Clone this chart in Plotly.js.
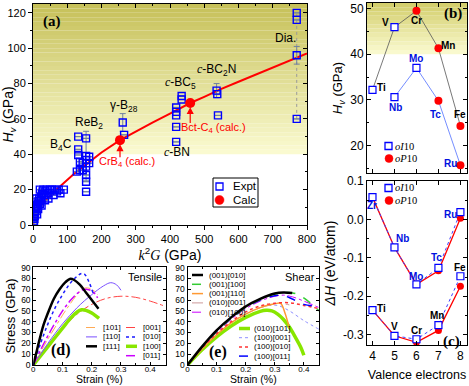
<!DOCTYPE html>
<html><head><meta charset="utf-8">
<script src="https://cdn.plot.ly/plotly-3.0.1.min.js"></script>
<style>html,body{margin:0;padding:0;background:#fff}#chart{width:469px;height:386px}</style>
</head><body><div id="chart"></div>
<script>
// ---------------- Panel (a): Hv vs k^2 G ----------------
const exptK2G = [2,3,4,5,6,7,8,10,12,14,16,18,20,22,24,26,28,30,33,36,40,45,50,55,60,65,70,75,80,90,12,15,25,20,35,45,10,5,
  132,132,132,137,137,128,145,145,155,155,155,155,155,155,155,164,164,
  262,266, 418,418,418,418,418,434,434, 536,538,540];
const exptHv  = [0.5,2,3.5,5,6.5,8,9.5,10,11,12,13.5,15,12,14,16,17.5,19,20,17,19,20,18,20,20,17,20,19,20,18,20,6,9,11,20,14,15,15,10,
  50,42.8,39.6,35.8,31,30.2,35,31,49,39,36.8,33,28.3,24.5,18.8,38.6,35,
  58,51, 66.5,64,62,55.5,47,73,71, 76,74,62];
const exptErr = [null,null,null,null,null,null,null,null,null,null,null,null,null,null,null,null,null,null,null,null,null,null,null,null,null,null,null,null,null,null,null,null,null,null,null,null,null,null,
  null,null,null,null,null,null,null,null,null,14,null,null,null,null,null,null,null,
  5,null, null,null,null,null,null,null,null, 4,null,null];
const diamondK2G = [770,770,770,770];
const diamondHv  = [60,96,116,120];
const diamondErr = [null,5,null,null];
const fitK2G = [0,10,20,40,60,80,120,160,200,254,300,350,400,459,500,550,600,650,700,750,800];
const fitHv  = [0,6,9.5,14.5,18.5,22,29,35,41,48,53,58,63,69,72.5,77,81,85,89,93,97];
const calcK2G = [254,459];
const calcHv  = [48,69];
const seriesA = ['Expt','Calc'];

// ---------------- Panels (b),(c): TM tetraborides ----------------
const valence = [4,5,6,7,8];
const elements3d = ['Ti','V','Cr','Mn','Fe'];
const elements4d = ['Zr','Nb','Mo','Tc','Ru'];
const hv3d = [32.2,45.9,49.5,41.3,24.3];
const phase3d = ['oI10','oI10','oP10','oP10','oP10'];
const hv4d = [null,30.6,37.0,29.8,15.7];
const phase4d = [null,'oI10','oI10','oP10','oP10'];
const dH3d_oI10 = [-0.236,-0.303,-0.312,-0.275,-0.148];
const dH3d_oP10 = [-0.236,-0.303,-0.320,-0.289,-0.174];
const dH4d_oI10 = [0.058,-0.073,-0.169,-0.126,0.019];
const dH4d_oP10 = [0.058,-0.073,-0.169,-0.134,0.003];
const phaseNames = ['<i>oI</i>10','<i>oP</i>10'];

// ---------------- Panel (d): tensile stress-strain ----------------
const t101_x = [0,0.025,0.05,0.075,0.1,0.125,0.15,0.17,0.19,0.21,0.22];
const t101_y = [0,12,24,35,46,56,65,70.5,71,68,65];
const t110_x = [0,0.025,0.05,0.1,0.15,0.2,0.24,0.265,0.285,0.3];
const t110_y = [0,10,20,38,53,65,73,76,74,69];
const t111_x = [0,0.01,0.02,0.035,0.05,0.07,0.09,0.11,0.125,0.14,0.16,0.18,0.2,0.223];
const t111_y = [0,11,22,37,48,61,70,76.5,79.5,78.5,74,67,60,52];
const t001_x = [0,0.05,0.1,0.15,0.2,0.25,0.3,0.35,0.4,0.453];
const t001_y = [0,17.5,34,47,56,61.5,63.5,62.5,59,54];
const t010_x = [0,0.025,0.05,0.075,0.1,0.125,0.15,0.165,0.175,0.19,0.205];
const t010_y = [0,20,38,53,65,75,82,84.5,84,77,66];
const t100_x = [0,0.05,0.1,0.13,0.15,0.165,0.18,0.2,0.225];
const t100_y = [0,17,34,44,49,51,50.5,48,43];
const t011_x = [0,0.025,0.05,0.075,0.1,0.125,0.15,0.17,0.19,0.21,0.22];
const t011_y = [0,14,27,39,50,59,66,69.5,69.5,66,62];

// ---------------- Panel (e): shear stress-strain ----------------
const s001_010_x = [0,0.05,0.1,0.15,0.2,0.25,0.3,0.33,0.36];
const s001_010_y = [0,17,32,44,54,61,66,67,66.5];
const s001_100_x = [0,0.05,0.1,0.15,0.2,0.25,0.3,0.35,0.38,0.41,0.452];
const s001_100_y = [0,16.5,31,43,53,60.5,65.5,67,65,60,50];
const s001_110_x = [0,0.05,0.1,0.15,0.2,0.25,0.3,0.32,0.335,0.35];
const s001_110_y = [0,15,28,39,47,53,56.5,57,48,34];
const s010_001_x = [0,0.05,0.1,0.15,0.2,0.25,0.3,0.33,0.35];
const s010_001_y = [0,15,28,39,47,53,56,56.5,55.5];
const s010_100_x = [0,0.05,0.1,0.15,0.2,0.25,0.3,0.33,0.36,0.4,0.452];
const s010_100_y = [0,16,30,42,52,59,63.5,64.5,63,59,53];
const s010_101_x = [0,0.05,0.1,0.15,0.2,0.25,0.27,0.29,0.31,0.33,0.35,0.37,0.39,0.4];
const s010_101_y = [0,14,26,36,44,49.5,50.5,50,47,42,35,26,16,9];
const s100_001_x = [0,0.05,0.1,0.15,0.2,0.25,0.28,0.31,0.35,0.4,0.452];
const s100_001_y = [0,15,28,39,47,53,55,55,50,41,33];
const s100_010_x = [0,0.05,0.1,0.15,0.2,0.25,0.3,0.35,0.4,0.452];
const s100_010_y = [0,15.5,29,40,49,54.5,57,57.5,55,52];
const s100_011_x = [0,0.05,0.1,0.15,0.2,0.25,0.3,0.33,0.36,0.4,0.452];
const s100_011_y = [0,16.5,31,43,53,60,64,64,61,56,54];

// ---------------- styling ----------------
const SANS = 'Liberation Sans, Arial, sans-serif';
const SERIF = 'Liberation Serif, Times New Roman, serif';
const W = 469, H = 386;
const px = v => v / W, py = v => 1 - v / H;
const BLUE = '#0000ff', RED = '#ff0000';

const traces = [];
// (a)
traces.push({x: fitK2G, y: fitHv, xaxis:'x', yaxis:'y', mode:'lines', line:{color:RED,width:2}, hoverinfo:'skip'});
traces.push({x: diamondK2G, y: diamondHv, xaxis:'x', yaxis:'y', mode:'lines', line:{color:'#999',width:1,dash:'dot'}});
traces.push({x: exptK2G.concat(diamondK2G), y: exptHv.concat(diamondHv), xaxis:'x', yaxis:'y', mode:'markers', name:seriesA[0],
  error_y:{type:'data', array: exptErr.concat(diamondErr), visible:true, color:'#7080a0', thickness:1, width:3},
  marker:{symbol:'square-open', size:7, color:BLUE, line:{width:1.4, color:BLUE}}});
traces.push({x: calcK2G, y: calcHv, xaxis:'x', yaxis:'y', mode:'markers', name:seriesA[1],
  marker:{symbol:'circle', size:10, color:RED}});
// (a) companion axes carrying the inward ticks on the top and right frame
traces.push({x: [], y: [], xaxis:'x6', yaxis:'y6', mode:'markers', hoverinfo:'skip'});

// (b)
traces.push({x: valence, y: hv3d, xaxis:'x2', yaxis:'y2', mode:'lines', line:{color:'#555',width:0.8}});
traces.push({x: valence, y: hv4d, xaxis:'x2', yaxis:'y2', mode:'lines', line:{color:'#5070ff',width:0.8}, connectgaps:false});
function pick(vals, phases, ph){ return vals.map((v,i)=> phases[i]===ph ? v : null); }
traces.push({x: valence.concat(valence), y: pick(hv3d,phase3d,'oP10').concat(pick(hv4d,phase4d,'oP10')), xaxis:'x2', yaxis:'y2',
  mode:'markers', name:'oP10', marker:{symbol:'circle', size:8, color:RED}});
traces.push({x: valence.concat(valence), y: pick(hv3d,phase3d,'oI10').concat(pick(hv4d,phase4d,'oI10')), xaxis:'x2', yaxis:'y2',
  mode:'markers', name:'oI10', marker:{symbol:'square', size:7, color:'#fff', line:{color:BLUE,width:1.2}}});

// (c)
traces.push({x: valence, y: dH4d_oP10, xaxis:'x3', yaxis:'y3', mode:'lines', line:{color:RED,width:1.3}});
traces.push({x: valence, y: dH3d_oP10, xaxis:'x3', yaxis:'y3', mode:'lines', line:{color:RED,width:1.3}});
traces.push({x: valence, y: dH4d_oI10, xaxis:'x3', yaxis:'y3', mode:'lines', line:{color:'#4040ff',width:1,dash:'dot'}});
traces.push({x: valence, y: dH3d_oI10, xaxis:'x3', yaxis:'y3', mode:'lines', line:{color:'#4040ff',width:1,dash:'dot'}});
traces.push({x: valence.concat(valence), y: dH4d_oP10.concat(dH3d_oP10), xaxis:'x3', yaxis:'y3', mode:'markers', name:'oP10',
  marker:{symbol:'circle', size:7, color:RED}});
traces.push({x: valence.concat(valence), y: dH4d_oI10.concat(dH3d_oI10), xaxis:'x3', yaxis:'y3', mode:'markers', name:'oI10',
  marker:{symbol:'square', size:7, color:'#fff', line:{color:BLUE,width:1.2}}});

// (d) tensile
const tStyles = {
  '[101]': {color:'#ffaa55', width:1, dash:'dashdot'},
  '[110]': {color:'#7a50ff', width:1, dash:'solid'},
  '[111]': {color:'#000000', width:2.5, dash:'solid'},
  '[001]': {color:'#ff4444', width:1, dash:'dashdot'},
  '[010]': {color:'#1a1aff', width:1.5, dash:'dot'},
  '[100]': {color:'#88e600', width:3.5, dash:'solid'},
  '[011]': {color:'#cc00ff', width:1.5, dash:'dashdot'}
};
const tData = {'[101]':[t101_x,t101_y],'[110]':[t110_x,t110_y],'[111]':[t111_x,t111_y],'[001]':[t001_x,t001_y],
  '[010]':[t010_x,t010_y],'[100]':[t100_x,t100_y],'[011]':[t011_x,t011_y]};
['[001]','[100]','[110]','[101]','[011]','[010]','[111]'].forEach(n=>{
  traces.push({x:tData[n][0], y:tData[n][1], xaxis:'x4', yaxis:'y4', mode:'lines', name:n, line:{...tStyles[n], shape:'spline'}});
});
// (e) shear
const sStyles = {
  '(001)[010]': {color:'#000000', width:2.5, dash:'solid'},
  '(001)[100]': {color:'#33cc33', width:1.5, dash:'dash'},
  '(001)[110]': {color:'#ff9933', width:1.5, dash:'solid'},
  '(010)[001]': {color:'#cc9999', width:1, dash:'longdash'},
  '(010)[100]': {color:'#cc00ff', width:1, dash:'dashdot'},
  '(010)[101]': {color:'#88e600', width:3.5, dash:'solid'},
  '(100)[001]': {color:'#9090ff', width:1, dash:'dot'},
  '(100)[010]': {color:'#ff3333', width:1.5, dash:'dot'},
  '(100)[011]': {color:'#0000ff', width:1.5, dash:'dash'}
};
const sData = {'(001)[010]':[s001_010_x,s001_010_y],'(001)[100]':[s001_100_x,s001_100_y],'(001)[110]':[s001_110_x,s001_110_y],
  '(010)[001]':[s010_001_x,s010_001_y],'(010)[100]':[s010_100_x,s010_100_y],'(010)[101]':[s010_101_x,s010_101_y],
  '(100)[001]':[s100_001_x,s100_001_y],'(100)[010]':[s100_010_x,s100_010_y],'(100)[011]':[s100_011_x,s100_011_y]};
['(010)[101]','(100)[001]','(010)[001]','(001)[110]','(100)[010]','(010)[100]','(100)[011]','(001)[100]','(001)[010]'].forEach(n=>{
  traces.push({x:sData[n][0], y:sData[n][1], xaxis:'x5', yaxis:'y5', mode:'lines', name:n, line:{...sStyles[n], shape:'spline'}});
});
traces.forEach(t=>{ t.showlegend = false; });

// ---------------- shapes ----------------
const shapes = [];
function gradient(xref, yref, y0, y1, n, cTop, cBot){
  for(let i=0;i<n;i++){
    const f = (i+0.5)/n;
    const c = cBot.map((b,k)=>Math.round(b + (cTop[k]-b)*f));
    shapes.push({type:'rect', xref:xref+' domain', yref:yref, x0:0, x1:1, y0:y0+(y1-y0)*i/n, y1:y0+(y1-y0)*(i+1)/n,
      fillcolor:`rgb(${c[0]},${c[1]},${c[2]})`, line:{width:0}, layer:'below'});
  }
}
gradient('x','y',40,125,34,[198,192,88],[251,251,210]);
gradient('x2','y2',40,51.2,12,[210,205,105],[251,251,210]);

// arrows for calculated points (pixel offsets anchored on the data point)
calcK2G.forEach((k,i)=>{
  const len = [17,20][i];
  shapes.push({type:'path', xref:'x', yref:'y', xsizemode:'pixel', ysizemode:'pixel', xanchor:k, yanchor:calcHv[i],
    path:`M0,-${len} L0,-9 M-2.6,-10.5 L0,-5.5 L2.6,-10.5 Z`, line:{color:RED,width:1.2}, fillcolor:RED});
});

const annotations = [];
function ann(o){ annotations.push(Object.assign({showarrow:false, xanchor:'center', yanchor:'middle', font:{family:SANS, size:12, color:'#000'}}, o)); }
function legendKey(style, xa, xb, yy, text, tx){
  shapes.push({type:'line', xref:'paper', yref:'paper', x0:px(xa), x1:px(xb), y0:py(yy), y1:py(yy),
    line:{color:style.color, width:style.width, dash:style.dash}});
  ann({xref:'paper', yref:'paper', x:px(tx), y:py(yy), xanchor:'left', text:text, font:{family:SANS, size:8, color:'#000'}});
}
function markerKey(kind, cx, cy, r, text, tx, font){
  const base = {xref:'paper', yref:'paper', xsizemode:'pixel', ysizemode:'pixel', xanchor:px(cx), yanchor:py(cy), x0:-r, x1:r, y0:-r, y1:r};
  if(kind==='square') shapes.push(Object.assign(base, {type:'rect', fillcolor:'#fff', line:{color:BLUE,width:1.3}}));
  else shapes.push(Object.assign(base, {type:'circle', fillcolor:RED, line:{color:RED,width:0.5}}));
  ann({xref:'paper', yref:'paper', x:px(tx), y:py(cy), xanchor:'left', text:text, font:font});
}
// (a) legend box
shapes.push({type:'rect', xref:'paper', yref:'paper', x0:px(213), x1:px(258), y0:py(207), y1:py(178), fillcolor:'#fff', line:{color:'#000',width:1}});
markerKey('square', 219.5, 186.5, 3.5, seriesA[0], 231, {family:SANS,size:11.5,color:'#000'});
markerKey('circle', 219.5, 200, 4.5, seriesA[1], 231, {family:SANS,size:11.5,color:'#000'});
// (b),(c) legends
const phaseFont = {family:SERIF,size:10.5,color:'#000'};
markerKey('square', 388.5, 146, 3.5, phaseNames[0], 393, phaseFont);
markerKey('circle', 389, 158.5, 4, phaseNames[1], 393, phaseFont);
markerKey('square', 388.5, 188, 3.5, phaseNames[0], 393, phaseFont);
markerKey('circle', 389, 200.5, 4, phaseNames[1], 393, phaseFont);
// (d) legend: two columns
['[101]','[110]','[111]'].forEach((n,i)=> legendKey(tStyles[n], 86, 97, 327.5+9.4*i, n, 101));
['[001]','[010]','[100]','[011]'].forEach((n,i)=> legendKey(tStyles[n], 126, 137, 327.5+9.4*i, n, 141));
// (e) legend
['(001)[010]','(001)[100]','(001)[110]','(010)[001]','(010)[100]'].forEach((n,i)=> legendKey(sStyles[n], 192, 203, 275+9.3*i, n, 207));
['(010)[101]','(100)[001]','(100)[010]','(100)[011]'].forEach((n,i)=> legendKey(sStyles[n], 239, 250, 328.5+9.2*i, n, 252));

// ---------------- annotations ----------------
const CI = '<span style="font-family:Liberation Serif"><i>c</i></span>';
ann({xref:'paper', yref:'paper', x:px(52), y:py(22), text:'<b>(a)</b>', font:{family:SERIF, size:15, color:'#000'}});
ann({xref:'x', yref:'y', x:82, y:45.5, text:'B<sub>4</sub>C'});
ann({xref:'x', yref:'y', x:164, y:57.5, text:'ReB<sub>2</sub>'});
ann({xref:'x', yref:'y', x:266, y:67.5, text:'γ-B<sub>28</sub>'});
ann({xref:'x', yref:'y', x:432, y:80.5, text:CI+'-BC<sub>5</sub>'});
ann({xref:'x', yref:'y', x:537, y:87.5, text:CI+'-BC<sub>2</sub>N'});
ann({xref:'x', yref:'y', x:420, y:41.5, text:CI+'-BN'});
ann({xref:'x', yref:'y', x:738, y:105.5, text:'Dia.'});
ann({xref:'x', yref:'y', x:275, y:35.5, text:'CrB<sub>4</sub> (calc.)', font:{family:SANS, size:11, color:RED}});
ann({xref:'x', yref:'y', x:528, y:55, text:'Bct-C<sub>4</sub> (calc.)', font:{family:SANS, size:11, color:RED}});
// (b) labels
const bShift3d = [[9,2],[-9,5],[0,-10],[10,3],[0,11]];
const bShift4d = [null,[1,-10],[0,9],[-3,-14],[-10,2]];
valence.forEach((v,i)=>{
  ann({xref:'x2', yref:'y2', x:v, y:hv3d[i], xshift:bShift3d[i][0], yshift:bShift3d[i][1], text:'<b>'+elements3d[i]+'</b>', font:{family:SANS,size:10,color:'#000'}});
  if(hv4d[i]!==null) ann({xref:'x2', yref:'y2', x:v, y:hv4d[i], xshift:bShift4d[i][0], yshift:bShift4d[i][1], text:'<b>'+elements4d[i]+'</b>', font:{family:SANS,size:10,color:'#0010e0'}});
});
ann({xref:'paper', yref:'paper', x:px(453), y:py(13), text:'<b>(b)</b>', font:{family:SERIF, size:15, color:'#000'}});
// (c) labels
const cShift3d = [[9,2],[0,9],[0,9],[-1,10],[0,9]];
const cShift4d = [[0,-8],[8,9],[0,8],[-2,10],[-10,-2]];
valence.forEach((v,i)=>{
  ann({xref:'x3', yref:'y3', x:v, y:dH3d_oI10[i], xshift:cShift3d[i][0], yshift:cShift3d[i][1], text:'<b>'+elements3d[i]+'</b>', font:{family:SANS,size:10,color:'#000'}});
  ann({xref:'x3', yref:'y3', x:v, y:dH4d_oI10[i], xshift:cShift4d[i][0], yshift:cShift4d[i][1], text:'<b>'+elements4d[i]+'</b>', font:{family:SANS,size:10,color:'#0010e0'}});
});
ann({xref:'paper', yref:'paper', x:px(451), y:py(341), text:'<b>(c)</b>', font:{family:SERIF, size:15, color:'#000'}});
// (d),(e)
ann({xref:'paper', yref:'paper', x:px(164), y:py(277), xanchor:'right', text:'Tensile', font:{family:SANS,size:11,color:'#000'}});
ann({xref:'paper', yref:'paper', x:px(317), y:py(277), xanchor:'right', text:'Shear', font:{family:SANS,size:11,color:'#000'}});
ann({xref:'paper', yref:'paper', x:px(61), y:py(350), text:'<b>(d)</b>', font:{family:SERIF, size:16, color:'#000'}});
ann({xref:'paper', yref:'paper', x:px(218), y:py(352), text:'<b>(e)</b>', font:{family:SERIF, size:16, color:'#000'}});
ann({xref:'paper', yref:'paper', x:px(99.5), y:py(387), yanchor:'bottom', text:'Strain (%)', font:{family:SANS,size:10.5,color:'#000'}});
ann({xref:'paper', yref:'paper', x:px(253), y:py(387), yanchor:'bottom', text:'Strain (%)', font:{family:SANS,size:10.5,color:'#000'}});

// ---------------- layout ----------------
const axBase = {showline:true, linecolor:'#000', linewidth:1, mirror:true, zeroline:false, showgrid:false,
  ticks:'outside', ticklen:4, tickcolor:'#000', tickfont:{family:SANS, size:11, color:'#000'}};
const smallTicks = {ticks:'inside', ticklen:3, mirror:'ticks', tickfont:{family:SANS,size:8.5,color:'#000'}};
const smallX = {tickfont:{family:SANS,size:8,color:'#000'}, ticklabelstandoff:-4};
const layout = {
  width:W, height:H, margin:{l:0,r:0,t:0,b:0}, paper_bgcolor:'#fff', plot_bgcolor:'rgba(0,0,0,0)',
  font:{family:SANS, color:'#000'}, showlegend:false,
  xaxis: Object.assign({}, axBase, {domain:[px(33),px(307)], range:[0,800], anchor:'y', dtick:100,
    minor:{dtick:50, ticks:'outside', ticklen:2, tickcolor:'#000'},
    title:{text:'<i style="font-family:Liberation Serif">k</i><sup>2</sup><i style="font-family:Liberation Serif">G</i> (GPa)', font:{family:SANS,size:14}, standoff:2}}),
  yaxis: Object.assign({}, axBase, {domain:[py(225),py(4)], range:[0,125], anchor:'x', dtick:20,
    minor:{dtick:10, ticks:'outside', ticklen:2, tickcolor:'#000'},
    title:{text:'<i>H</i><sub><i>v</i></sub> (GPa)', font:{family:SANS,size:14}, standoff:0}}),
  xaxis6: {overlaying:'x', side:'top', anchor:'y', range:[0,800], dtick:100, ticks:'inside', ticklen:4, tickcolor:'#000',
    showticklabels:false, showline:false, showgrid:false, zeroline:false, minor:{dtick:50, ticks:'inside', ticklen:2, tickcolor:'#000'}},
  yaxis6: {overlaying:'y', side:'right', anchor:'x', range:[0,125], dtick:20, ticks:'inside', ticklen:4, tickcolor:'#000',
    showticklabels:false, showline:false, showgrid:false, zeroline:false, minor:{dtick:10, ticks:'inside', ticklen:2, tickcolor:'#000'}},
  xaxis2: Object.assign({}, axBase, {domain:[px(367),px(467)], range:[3.75,8.3], anchor:'y2', tickvals:valence, showticklabels:false, ticks:'inside', mirror:'ticks'}),
  yaxis2: Object.assign({}, axBase, {domain:[py(173),py(3)], range:[14,51.2], anchor:'x2', tickvals:[20,30,40,50], ticks:'inside', mirror:'ticks',
    minor:{dtick:5, ticks:'inside', ticklen:2, tickcolor:'#000'},
    tickfont:{family:SANS,size:12,color:'#000'}, title:{text:'<i>H</i><sub><i>v</i></sub> (GPa)', font:{family:SANS,size:13}, standoff:4}}),
  xaxis3: Object.assign({}, axBase, {domain:[px(367),px(467)], range:[3.75,8.3], anchor:'y3', tickvals:valence, ticks:'inside', mirror:'ticks',
    tickfont:{family:SANS,size:12,color:'#000'}, title:{text:'Valence electrons', font:{family:SANS,size:12.5}, standoff:7}}),
  yaxis3: Object.assign({}, axBase, {domain:[py(345),py(181)], range:[-0.327,0.1], anchor:'x3', ticks:'inside', mirror:'ticks',
    tickvals:[0.1,0,-0.1,-0.2,-0.3], ticktext:['0.1','0.0','-0.1','-0.2','-0.3'],
    minor:{tickvals:[0.05,-0.05,-0.15,-0.25], ticks:'inside', ticklen:2, tickcolor:'#000'},
    tickfont:{family:SANS,size:12,color:'#000'}, title:{text:'<i>Δ</i><i>H</i> (eV/atom)', font:{family:SANS,size:14}, standoff:4}}),
  xaxis4: Object.assign({}, axBase, smallTicks, smallX, {domain:[px(33.3),px(165.7)], range:[0,0.453], anchor:'y4',
    tickvals:[0,0.1,0.2,0.3,0.4], ticktext:['0','0.1','0.2','0.3','0.4'], minor:{dtick:0.05, ticks:'inside', ticklen:2, tickcolor:'#000'}}),
  yaxis4: Object.assign({}, axBase, smallTicks, {domain:[py(365),py(267)], range:[0,90.5], anchor:'x4', dtick:10,
    title:{text:'Stress (GPa)', font:{family:SANS,size:13}, standoff:2}}),
  xaxis5: Object.assign({}, axBase, smallTicks, smallX, {domain:[px(187.5),px(319)], range:[0,0.452], anchor:'y5',
    tickvals:[0,0.1,0.2,0.3,0.4], ticktext:['0','0.1','0.2','0.3','0.4'], minor:{dtick:0.05, ticks:'inside', ticklen:2, tickcolor:'#000'}}),
  yaxis5: Object.assign({}, axBase, smallTicks, {domain:[py(365),py(267)], range:[0,90.5], anchor:'x5', dtick:10}),
  shapes: shapes, annotations: annotations
};
Plotly.newPlot('chart', traces, layout, {displayModeBar:false, staticPlot:true});
</script>
</body></html>
